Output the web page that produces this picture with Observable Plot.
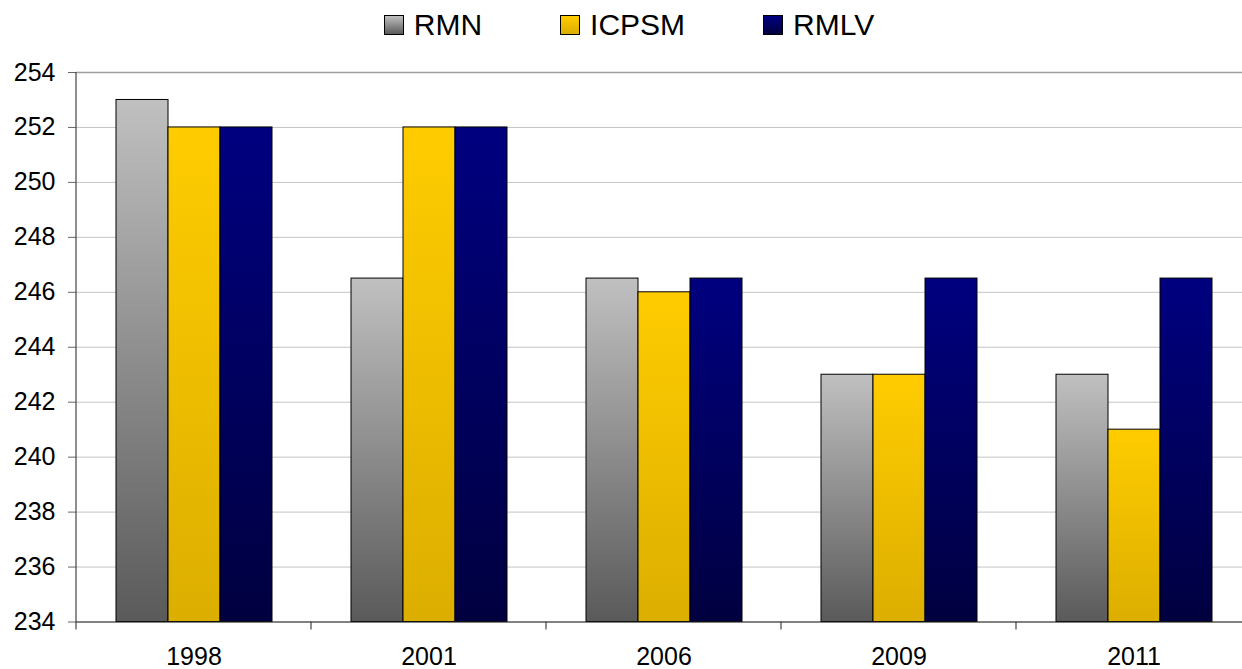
<!DOCTYPE html>
<html>
<head>
<meta charset="utf-8">
<script src="https://cdn.jsdelivr.net/npm/d3@7"></script>
<script src="https://cdn.jsdelivr.net/npm/@observablehq/plot@0.6"></script>
<style>
  html, body { margin: 0; padding: 0; background: #fff; overflow: hidden; }
  body { width: 1242px; height: 669px; font-family: "Liberation Sans", Arial, sans-serif; }
  #legend { height: 50px; display: flex; align-items: center; justify-content: center; padding-left: 16px; box-sizing: border-box; width: 1242px; }
  .item { display: flex; align-items: center; margin: 0 39px; font-size: 30px; color: #000; }
  .sw { width: 20px; height: 20px; border: 1px solid #000; margin-right: 10px; box-sizing: border-box; }
  #chart { width: 1252px; }
  #chart svg { display: block; max-width: none !important; }
</style>
</head>
<body>
<div id="legend"></div>
<div id="chart"></div>
<script>
// ---- data ----
const years = ["1998", "2001", "2006", "2009", "2011"];
const series = ["RMN", "ICPSM", "RMLV"];
const RMN = [253, 246.5, 246.5, 243, 243];
const ICPSM = [252, 252, 246, 243, 241];
const RMLV = [252, 252, 246.5, 246.5, 246.5];
const yTicks = [234, 236, 238, 240, 242, 244, 246, 248, 250, 252, 254];

// ---- styling ----
const gradients = {
  RMN: ["#c0c0c0", "#5a5a5a"],
  ICPSM: ["#ffcc00", "#dcae00"],
  RMLV: ["#000080", "#000040"]
};

const valuesBySeries = {RMN, ICPSM, RMLV};
const data = years.flatMap((year, i) => series.map(s => ({year, series: s, value: valuesBySeries[s][i]})));

// legend
const legend = document.getElementById("legend");
series.forEach(s => {
  const it = document.createElement("div");
  it.className = "item";
  const sw = document.createElement("div");
  sw.className = "sw";
  sw.style.background = `linear-gradient(to bottom, ${gradients[s][0]}, ${gradients[s][1]})`;
  const t = document.createElement("span");
  t.textContent = s;
  it.appendChild(sw);
  it.appendChild(t);
  legend.appendChild(it);
});

const plot = Plot.plot({
  width: 1252,
  height: 619,
  marginTop: 22,
  marginBottom: 47.5,
  marginLeft: 75,
  marginRight: 0,
  style: {fontFamily: "'Liberation Sans', Arial, sans-serif", fontSize: "25px", color: "#000", background: "#fff", maxWidth: "none"},
  fx: {domain: years, padding: 0, label: null},
  x: {domain: series, paddingInner: 0, paddingOuter: 0.74, axis: null},
  y: {domain: [234, 254], label: null},
  marks: [
    Plot.gridY(yTicks, {stroke: "#c4c4c4", strokeOpacity: 1}),
    Plot.ruleY([254], {stroke: "#a0a0a0", strokeWidth: 1.5}),
    ...series.map(s => Plot.barY(data.filter(d => d.series === s), {
      fx: "year", x: "series", y1: 234, y2: "value",
      fill: `url(#grad-${s})`, stroke: "#000", strokeWidth: 1
    })),
    Plot.ruleY([234], {stroke: "#222", strokeWidth: 1.2}),
    Plot.axisY(yTicks, {tickSize: 8, tickPadding: 13, fontSize: 25, label: null, stroke: "#666", color: "#000"}),
    Plot.axisFx({anchor: "bottom", tickSize: 0, tickPadding: 25, fontSize: 25, label: null})
  ]
});

document.getElementById("chart").appendChild(plot);

// gradient definitions
const svg = d3.select(plot);
const defs = svg.insert("defs", ":first-child");
series.forEach(s => {
  const g = defs.append("linearGradient").attr("id", `grad-${s}`)
    .attr("x1", 0).attr("y1", 0).attr("x2", 0).attr("y2", 1);
  g.append("stop").attr("offset", "0%").attr("stop-color", gradients[s][0]);
  g.append("stop").attr("offset", "100%").attr("stop-color", gradients[s][1]);
});

// y axis line and category boundary ticks from the scales
const fx = plot.scale("fx");
const y = plot.scale("y");
const gx = svg.append("g");
gx.append("line")
  .attr("x1", fx.apply(years[0])).attr("x2", fx.apply(years[0]))
  .attr("y1", y.apply(254)).attr("y2", y.apply(234) + 8)
  .attr("stroke", "#444").attr("stroke-width", 1.2);
years.slice(1).forEach(yr => {
  gx.append("line")
    .attr("x1", fx.apply(yr)).attr("x2", fx.apply(yr))
    .attr("y1", y.apply(234)).attr("y2", y.apply(234) + 8)
    .attr("stroke", "#444").attr("stroke-width", 1.2);
});
</script>
</body>
</html>
